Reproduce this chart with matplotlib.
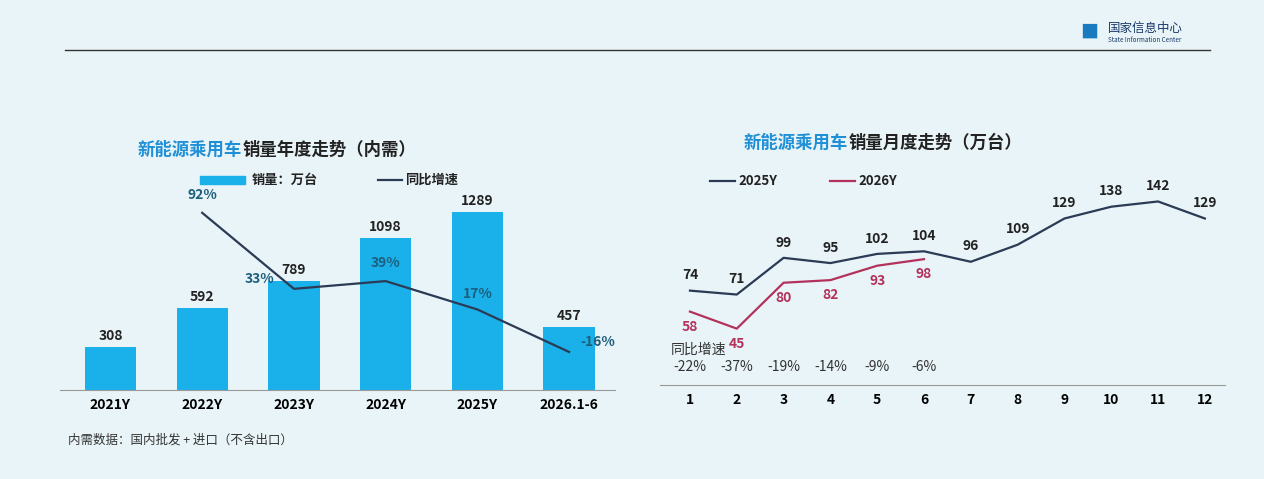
import matplotlib.pyplot as plt

plt.rcParams['font.family'] = ['Noto Sans CJK SC', 'DejaVu Sans']

years = ["2021Y", "2022Y", "2023Y", "2024Y", "2025Y", "2026.1-6"]
sales = [308, 592, 789, 1098, 1289, 457]
yoy = [None, 92, 33, 39, 17, -16]

months = list(range(1, 13))
m2025 = [74, 71, 99, 95, 102, 104, 96, 109, 129, 138, 142, 129]
m2026 = [58, 45, 80, 82, 93, 98]
yoy_m = ["-22%", "-37%", "-19%", "-14%", "-9%", "-6%"]

W, H = 1264, 479
BG = "#e9f4f8"
BLUE = "#1ab0ea"
NAVY = "#2b3a55"
RED = "#b3325c"
TEAL = "#1d5f7c"


def px(x0, y0, x1, y1):
    return [x0 / W, 1 - y1 / H, (x1 - x0) / W, (y1 - y0) / H]


fig = plt.figure(figsize=(W / 100, H / 100), dpi=100, facecolor=BG)

# header
fig.add_artist(plt.Line2D([65 / W, 1210 / W], [1 - 50 / H] * 2, color="#333333", lw=1))
fig.text(1108 / W, 1 - 28 / H, "国家信息中心", fontsize=9, color="#1a3a6a", va="center")
fig.text(1108 / W, 1 - 40 / H, "State Information Center", fontsize=4.5, color="#1a3a6a", va="center")
fig.text(1080 / W, 1 - 33 / H, "■", fontsize=13, color="#1a7ac0", va="center")

# ---- left: annual ----
ax = fig.add_axes(px(60, 169, 615, 390))
ax.set_facecolor("none")
x = range(len(years))
ax.bar(x, sales, width=0.56, color=BLUE)
for i, v in enumerate(sales):
    ax.text(i, v + 30, str(v), ha="center", va="bottom", fontsize=10, fontweight="bold", color="#222222")
ax.set_ylim(0, 1600)
ax.set_xlim(-0.55, 5.5)
ax.set_xticks(list(x))
ax.set_xticklabels(years, fontsize=10, fontweight="bold")
ax.tick_params(axis="x", length=0, pad=6)
ax.set_yticks([])
for s in ["top", "right", "left"]:
    ax.spines[s].set_visible(False)
ax.spines["bottom"].set_color("#999999")

ax2 = ax.twinx()
ax2.plot(list(x)[1:], yoy[1:], color=NAVY, lw=1.6)
ax2.set_ylim(-45.5, 126)
ax2.set_yticks([])
ax2.axis("off")
offs = {1: (0, 8, "center"), 2: (-14, 2, "right"), 3: (0, 8, "center"), 4: (0, 6, "center"), 5: (8, 2, "left")}
for i in range(1, 6):
    dx, dy, ha = offs[i]
    ax2.annotate(f"{yoy[i]}%", (i, yoy[i]), xytext=(dx, dy), textcoords="offset points",
                 ha=ha, va="bottom", fontsize=10, fontweight="bold", color=TEAL)

fig.text(138 / W, 1 - 150 / H, "新能源乘用车", fontsize=12.5, fontweight="bold", color="#1f8fd6", va="center")
fig.text(243 / W, 1 - 150 / H, "销量年度走势（内需）", fontsize=12.5, fontweight="bold", color="#222222", va="center")
fig.add_artist(plt.Rectangle((200 / W, 1 - 184 / H), 45 / W, 8 / H, color=BLUE))
fig.text(252 / W, 1 - 180 / H, "销量：万台", fontsize=9.5, fontweight="bold", color="#222222", va="center")
fig.add_artist(plt.Line2D([378 / W, 402 / W], [1 - 180 / H] * 2, color=NAVY, lw=1.6))
fig.text(405 / W, 1 - 180 / H, "同比增速", fontsize=9.5, fontweight="bold", color="#222222", va="center")

# ---- right: monthly ----
bx = fig.add_axes(px(660, 170, 1225, 385))
bx.set_facecolor("none")
bx.plot(months, m2025, color=NAVY, lw=1.6)
bx.plot(months[:len(m2026)], m2026, color=RED, lw=1.6)
for m, v in zip(months, m2025):
    bx.annotate(str(v), (m, v), xytext=(0, 6), textcoords="offset points", ha="center",
                va="bottom", fontsize=10, fontweight="bold", color="#222222")
for m, v in zip(months, m2026):
    bx.annotate(str(v), (m, v), xytext=(0, -6), textcoords="offset points", ha="center",
                va="top", fontsize=10, fontweight="bold", color=RED)
for m, t in zip(months, yoy_m):
    bx.text(m, 16, t, ha="center", va="center", fontsize=10, color="#333333")
bx.text(0.6, 29, "同比增速", ha="left", va="center", fontsize=10, color="#333333")
bx.set_xlim(0.36, 12.43)
bx.set_ylim(2, 166)
bx.set_xticks(months)
bx.set_xticklabels([str(m) for m in months], fontsize=10, fontweight="bold")
bx.tick_params(axis="x", length=0, pad=6)
bx.set_yticks([])
for s in ["top", "right", "left"]:
    bx.spines[s].set_visible(False)
bx.spines["bottom"].set_color("#999999")

fig.text(744 / W, 1 - 143 / H, "新能源乘用车", fontsize=12.5, fontweight="bold", color="#1f8fd6", va="center")
fig.text(849 / W, 1 - 143 / H, "销量月度走势（万台）", fontsize=12.5, fontweight="bold", color="#222222", va="center")
fig.add_artist(plt.Line2D([710 / W, 735 / W], [1 - 181 / H] * 2, color=NAVY, lw=1.6))
fig.text(738 / W, 1 - 181 / H, "2025Y", fontsize=9.5, fontweight="bold", color="#222222", va="center")
fig.add_artist(plt.Line2D([830 / W, 855 / W], [1 - 181 / H] * 2, color=RED, lw=1.6))
fig.text(858 / W, 1 - 181 / H, "2026Y", fontsize=9.5, fontweight="bold", color="#222222", va="center")

fig.text(68 / W, 1 - 440 / H, "内需数据：国内批发 + 进口（不含出口）", fontsize=9, color="#333333", va="center")

fig.savefig("out.png", dpi=100, facecolor=BG)
